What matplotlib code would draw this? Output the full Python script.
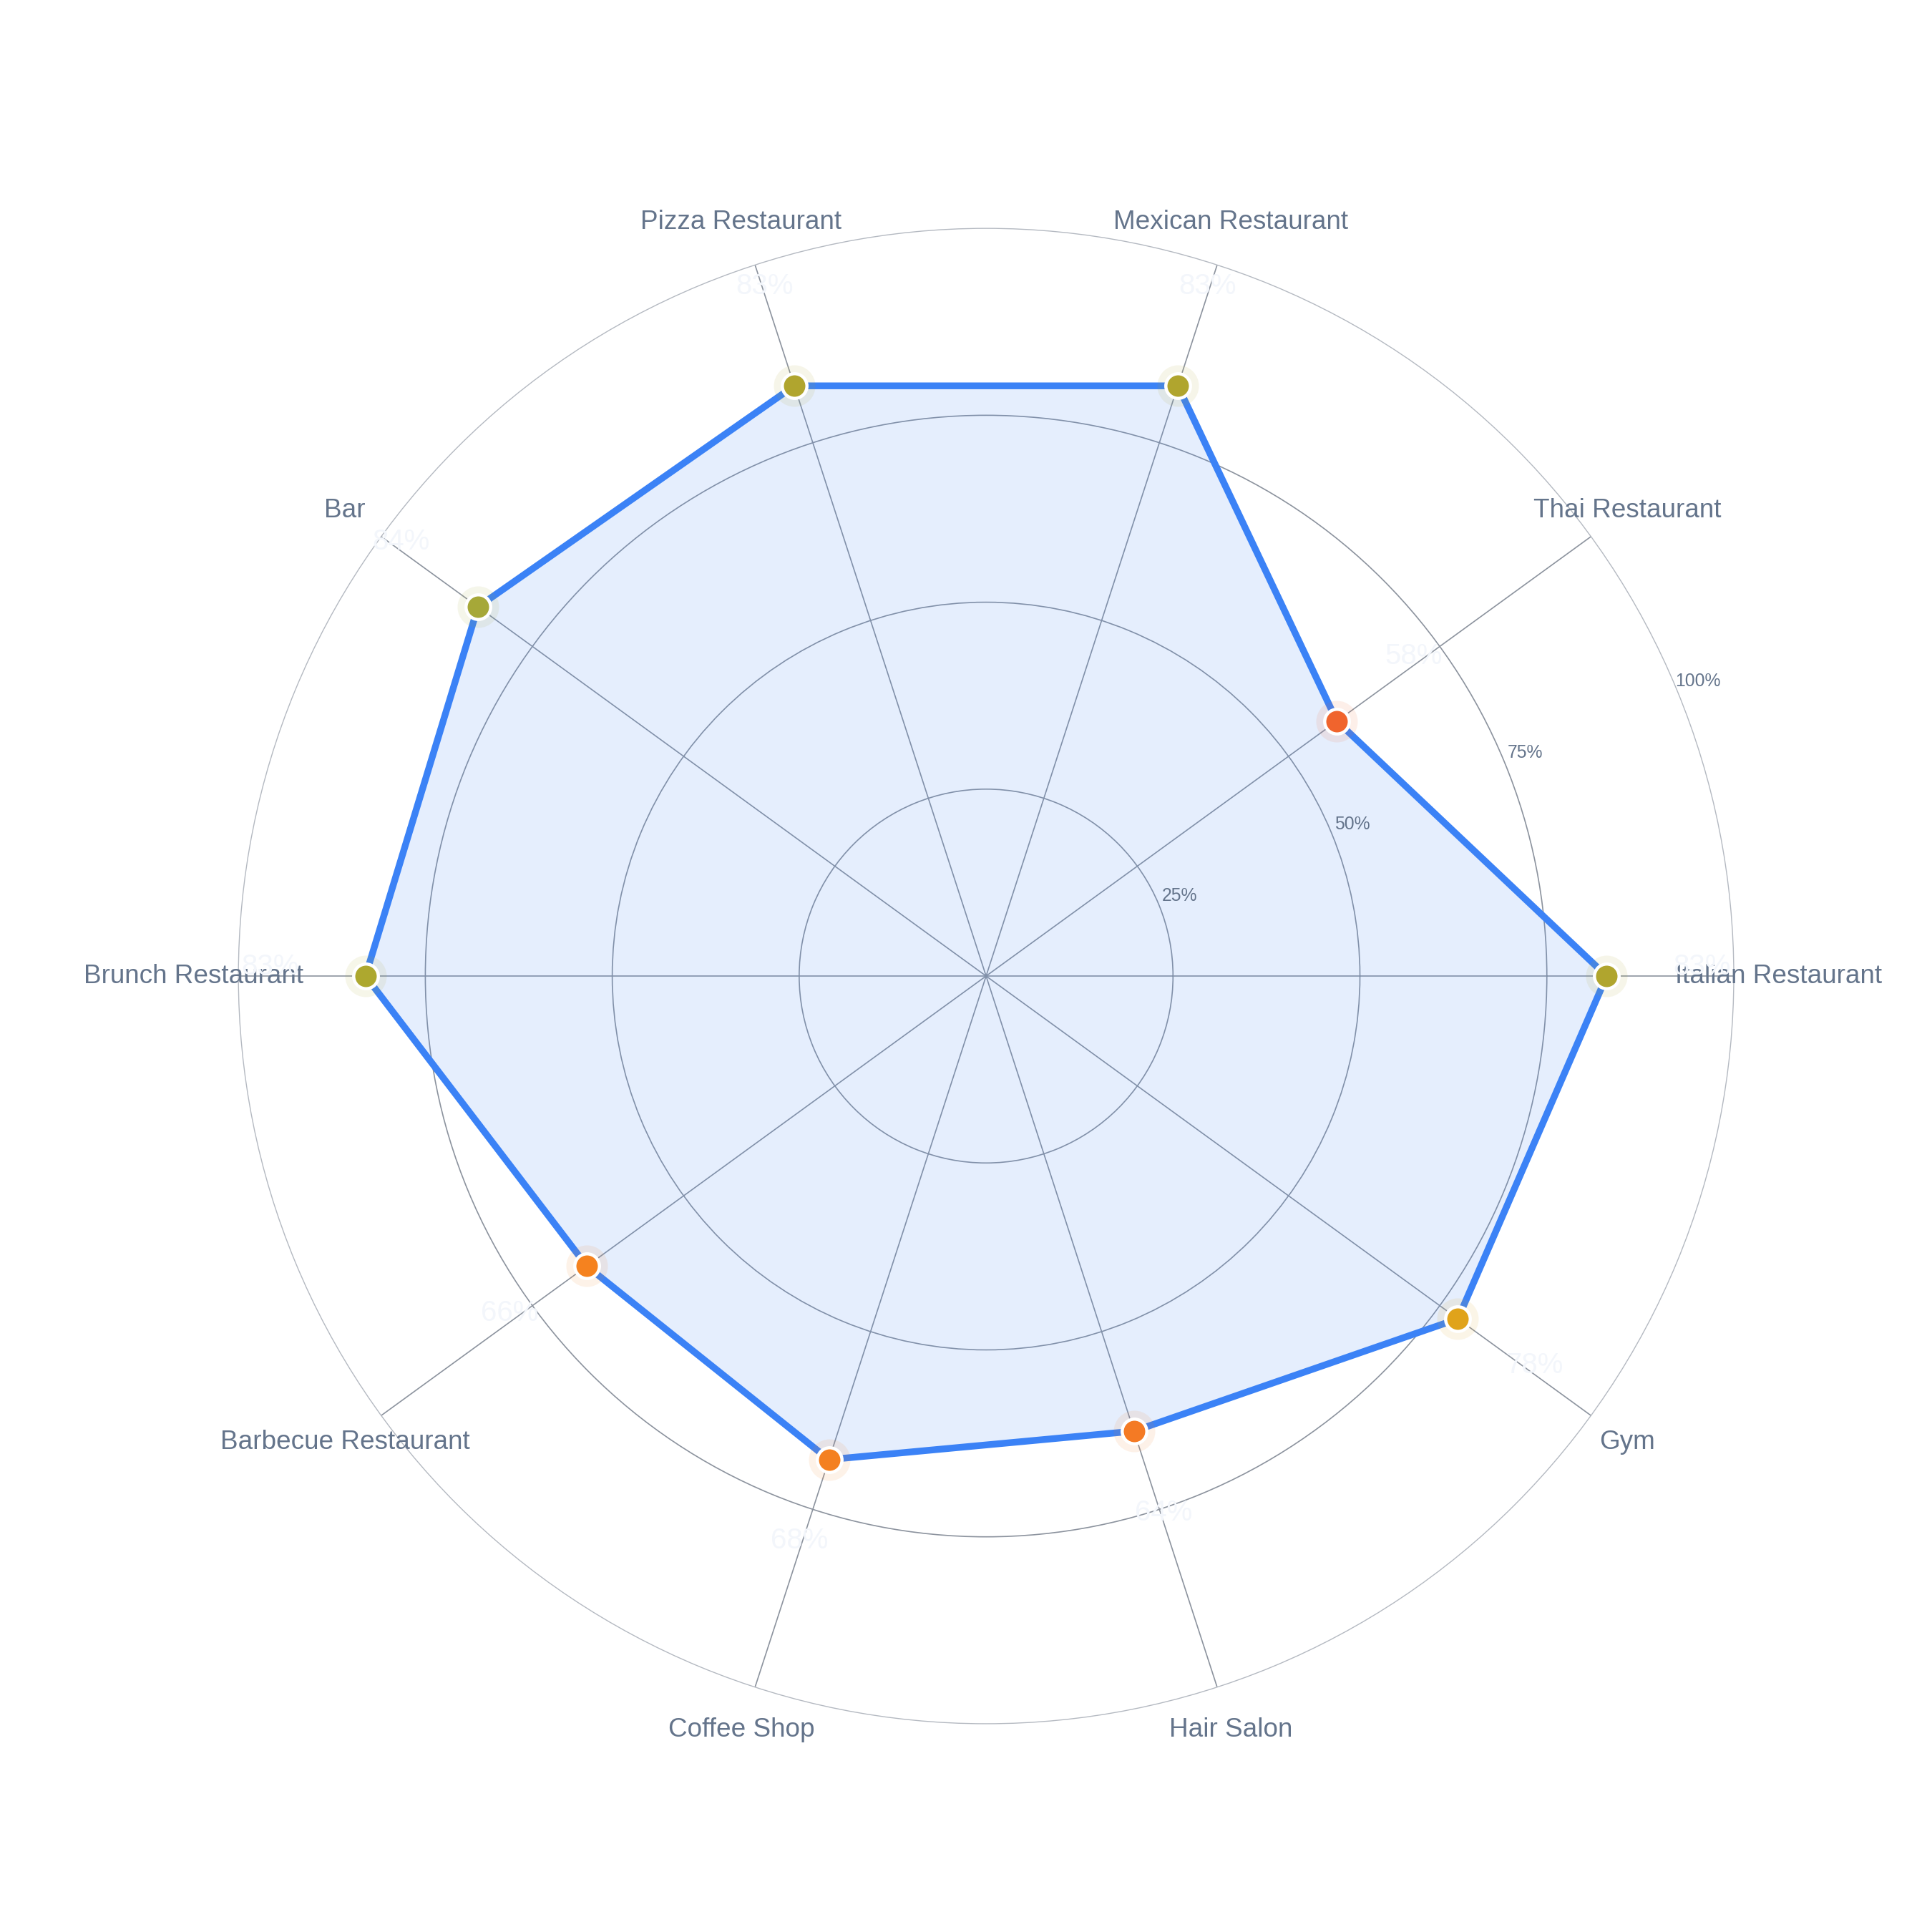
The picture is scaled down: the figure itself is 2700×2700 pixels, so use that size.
import numpy as np
import matplotlib
matplotlib.use("Agg")
import matplotlib.pyplot as plt

# ---- data ----
categories = ["Italian Restaurant", "Thai Restaurant", "Mexican Restaurant",
              "Pizza Restaurant", "Bar", "Brunch Restaurant",
              "Barbecue Restaurant", "Coffee Shop", "Hair Salon", "Gym"]
values = [83, 58, 83, 83, 84, 83, 66, 68, 64, 78]
radial_ticks = [25, 50, 75, 100]
radial_tick_labels = ["25%", "50%", "75%", "100%"]
marker_colors = ["#b0a52e", "#f0642d", "#b0a52e", "#b0a52e", "#a6a838",
                 "#ada82f", "#f5821f", "#f48020", "#f47a24", "#e0a31b"]

plt.rcParams["font.family"] = ["Liberation Sans", "DejaVu Sans"]

fig = plt.figure(figsize=(13.5, 13.5), dpi=200)
fig.patch.set_facecolor("white")
ax = fig.add_axes([0.1234, 0.1078, 0.774, 0.774], projection="polar")
ax.set_facecolor("white")

n = len(categories)
theta = np.deg2rad(np.arange(n) * 360.0 / n)

ax.set_ylim(0, 100)
ax.set_xticks(theta)
ax.set_xticklabels([])
ax.set_yticks(radial_ticks[:-1])
ax.set_yticklabels([])
ax.tick_params(length=0)
ax.grid(True, color="#8c939e", lw=0.6)
ax.spines["polar"].set_color("#b4b9c1")
ax.spines["polar"].set_linewidth(0.5)

# radial tick labels
for r, lab in zip(radial_ticks, radial_tick_labels):
    ax.text(np.deg2rad(22.5), r + 3, lab, ha="center", va="center",
            fontsize=8.9, color="#64748b", zorder=6)

# category labels
for t, lab in zip(theta, categories):
    ax.text(t, 106, lab, ha="center", va="center", fontsize=13.3,
            color="#64748b", zorder=6)

# polygon
t_closed = np.append(theta, theta[0])
v_closed = np.append(values, values[0])
ax.fill(t_closed, v_closed, color="#3b82f6", alpha=0.13, lw=0, zorder=2)
ax.plot(t_closed, v_closed, color="#3b82f6", lw=3.4,
        solid_joinstyle="round", zorder=3)

# markers
for t, v, c in zip(theta, values, marker_colors):
    ax.plot(t, v, "o", ms=20.9, color=c, alpha=0.1, mec="none", zorder=4)
    ax.plot(t, v, "o", ms=12.4, mfc=c, mec="white", mew=1.6, zorder=5)

# value labels (very pale)
for t, v in zip(theta, values):
    ax.annotate(f"{v}%", xy=(t, v),
                xytext=(47.9 * np.cos(t), 47.9 * np.sin(t) + 4.7),
                textcoords="offset points", ha="center", va="center",
                fontsize=14.5, color="#f3f6fb", zorder=7,
                annotation_clip=False)

fig.savefig("out.png", dpi=200, facecolor="white")
